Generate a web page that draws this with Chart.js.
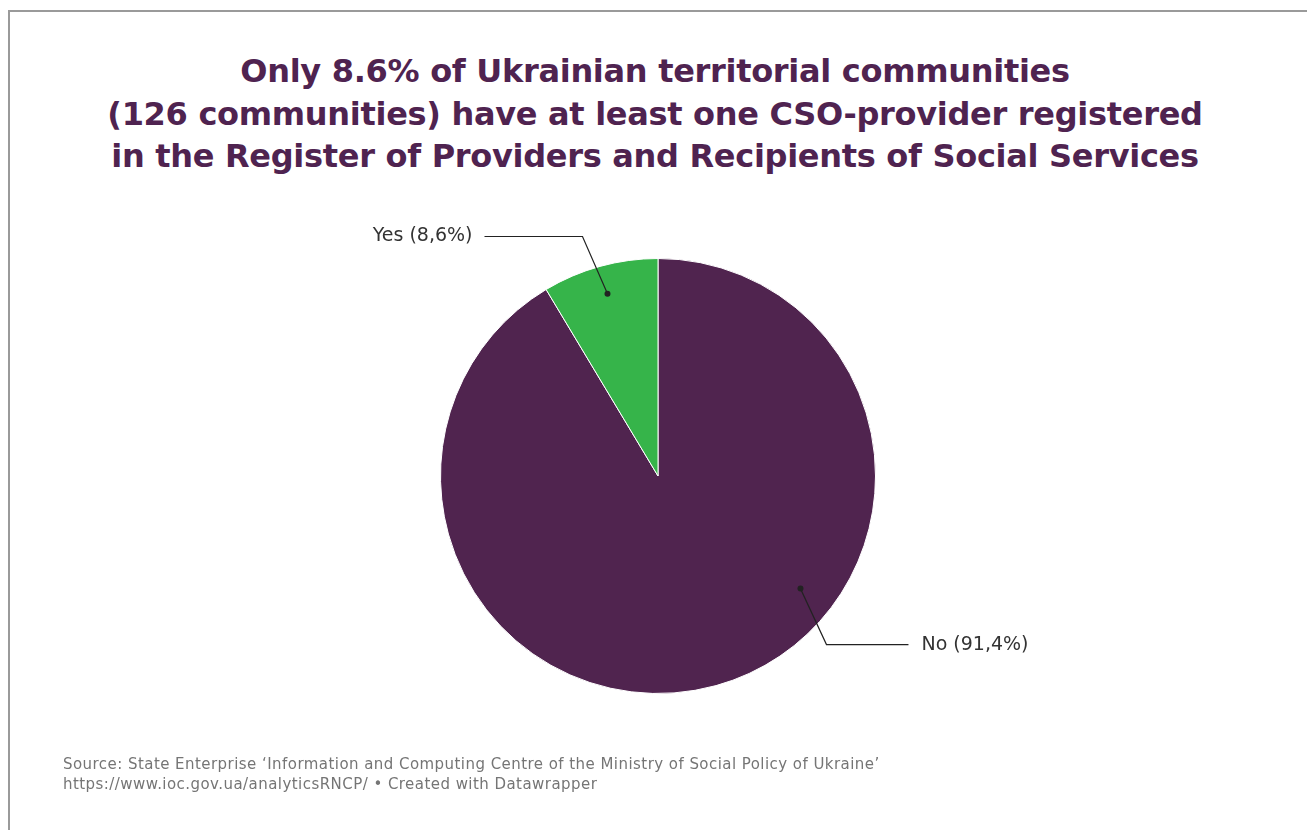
<!DOCTYPE html>
<html>
<head>
<meta charset="utf-8">
<script src="https://cdn.jsdelivr.net/npm/chart.js@4"></script>
<style>
  html, body { margin: 0; padding: 0; background: #fff; }
  body { width: 1307px; height: 830px; position: relative; overflow: hidden; font-family: "DejaVu Sans", sans-serif; }
  .frame { position: absolute; left: 8px; top: 10px; width: 1320px; height: 840px; border-top: 2px solid #9a9a9a; border-left: 2px solid #9a9a9a; }
  h1 { position: absolute; left: 0; width: 1310px; top: 50px; margin: 0; text-align: center; color: #4f2350; font-size: 32px; line-height: 42.5px; font-weight: bold; letter-spacing: -0.3px; }
  .source { position: absolute; left: 63px; top: 754px; color: #757575; font-size: 15px; line-height: 20px; letter-spacing: 0.45px; font-family: "DejaVu Sans", sans-serif; }
  #wrap { position: absolute; left: 0; top: 0; width: 1307px; height: 830px; }
</style>
</head>
<body>
<div class="frame"></div>
<h1>Only 8.6% of Ukrainian territorial communities<br>(126 communities) have at least one CSO-provider registered<br>in the Register of Providers and Recipients of Social Services</h1>
<div id="wrap"><canvas id="pie"></canvas></div>
<div class="source">Source: State Enterprise ‘Information and Computing Centre of the Ministry of Social Policy of Ukraine’<br>https://www.ioc.gov.ua/analyticsRNCP/ • Created with Datawrapper</div>
<script>
const pie_labels = ['No', 'Yes'];
const pie_data = [91.4, 8.6];
const pie_colors = ['#50244f', '#36b44a'];
// where each leader line starts: share of the slice's angle, share of the radius
const anchor_along = [0.39, 0.5];
const anchor_radius = [0.835, 0.87];

const fmt = v => v.toFixed(1).replace('.', ',') + '%';

const leaderLabels = {
    id: 'leaderLabels',
    afterDatasetsDraw(chart) {
        const ctx = chart.ctx;
        const meta = chart.getDatasetMeta(0);
        ctx.save();
        ctx.font = '19px "DejaVu Sans", sans-serif';
        ctx.textBaseline = 'middle';
        meta.data.forEach((arc, i) => {
            const p = arc.getProps(['x', 'y', 'startAngle', 'endAngle', 'outerRadius'], true);
            const a = p.startAngle + (p.endAngle - p.startAngle) * anchor_along[i];
            const r = p.outerRadius * anchor_radius[i];
            const dx = p.x + Math.cos(a) * r;
            const dy = p.y + Math.sin(a) * r;
            const left = Math.cos(a) < 0;
            // elbow sits just outside the pie, then runs horizontally
            const ey = left ? p.y - p.outerRadius - 22 : dy + 56;
            const ex = left ? dx - 25 : dx + 26;
            const endX = left ? ex - 98 : ex + 82;
            ctx.strokeStyle = '#222';
            ctx.lineWidth = 1.2;
            ctx.beginPath();
            ctx.moveTo(dx, dy);
            ctx.lineTo(ex, ey);
            ctx.lineTo(endX, ey);
            ctx.stroke();
            ctx.fillStyle = '#222';
            ctx.beginPath();
            ctx.arc(dx, dy, 3, 0, Math.PI * 2);
            ctx.fill();
            ctx.fillStyle = '#333';
            ctx.textAlign = left ? 'right' : 'left';
            ctx.fillText(pie_labels[i] + ' (' + fmt(pie_data[i]) + ')', left ? endX - 12 : endX + 13, ey);
        });
        ctx.restore();
    }
};

const ctx_pie = document.getElementById('pie').getContext('2d');
const pieChart = new Chart(ctx_pie, {
    type: 'pie',
    data: {
        labels: pie_labels,
        datasets: [{
            data: pie_data,
            backgroundColor: pie_colors,
            borderColor: '#ffffff',
            borderWidth: 1
        }]
    },
    options: {
        responsive: true,
        maintainAspectRatio: false,
        animation: false,
        layout: { padding: { left: 440, right: 431, top: 258, bottom: 136 } },
        plugins: {
            legend: { display: false },
            tooltip: { enabled: false }
        }
    },
    plugins: [leaderLabels]
});
</script>
</body>
</html>
